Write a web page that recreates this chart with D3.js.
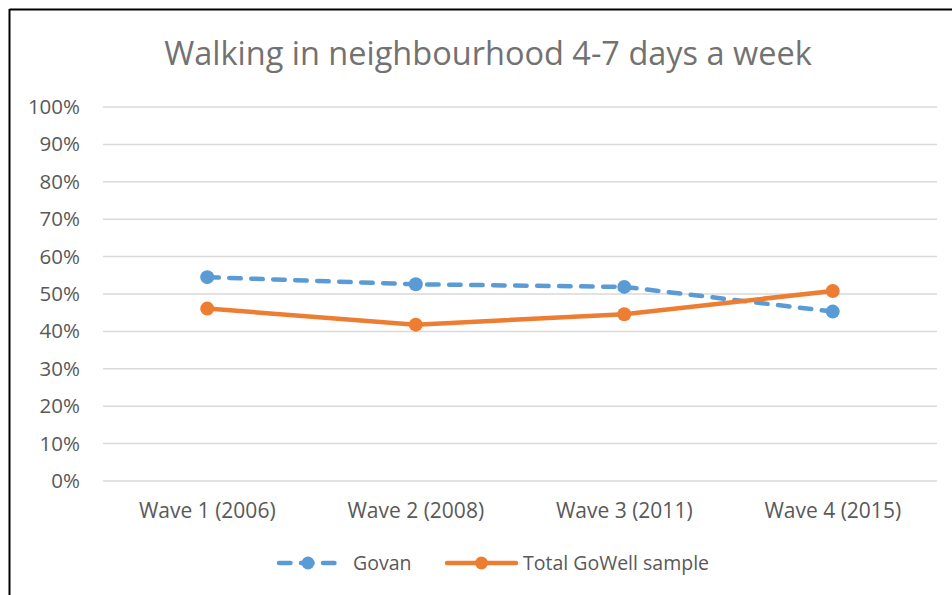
<!DOCTYPE html>
<html>
<head>
<meta charset="utf-8">
<script src="https://cdn.jsdelivr.net/npm/d3@7"></script>
<style>
  body { margin:0; background:#fff; }
  text { font-family: "Open Sans", "Liberation Sans", sans-serif; fill:#595959; }
</style>
</head>
<body>
<script>
var categories = ["Wave 1 (2006)", "Wave 2 (2008)", "Wave 3 (2011)", "Wave 4 (2015)"];
var govan = [54.5, 52.6, 51.9, 45.3];
var total = [46.1, 41.8, 44.6, 50.8];
var yTicks = [0, 10, 20, 30, 40, 50, 60, 70, 80, 90, 100];
var seriesNames = ["Govan", "Total GoWell sample"];

var W = 952, H = 595;
var margin = {top:107, left:103, right:15, bottom:114};
var w = W - margin.left - margin.right,
    h = H - margin.top - margin.bottom;

var svg = d3.select("body").append("svg")
    .attr("width", W)
    .attr("height", H);

// frame (only top and left show in the crop)
svg.append("line").attr("x1",9.5).attr("x2",W).attr("y1",9.5).attr("y2",9.5)
    .style("stroke","#000").style("stroke-width",2);
svg.append("line").attr("x1",9.5).attr("x2",9.5).attr("y1",9).attr("y2",H)
    .style("stroke","#000").style("stroke-width",2);

svg.append("text")
    .attr("x", 488)
    .attr("y", 65)
    .attr("text-anchor","middle")
    .style("font-size","32.5px")
    .style("fill","#727272")
    .text("Walking in neighbourhood 4-7 days a week");

var g = svg.append("g")
    .attr("transform","translate(" + margin.left + "," + margin.top + ")");

var xScale = d3.scaleBand().domain(categories).range([0, w]);
var yScale = d3.scaleLinear().domain([0, 100]).range([h, 0]);

// gridlines
g.selectAll("line.grid")
  .data(yTicks)
  .enter()
  .append("line")
    .attr("class","grid")
    .attr("x1",0).attr("x2",w)
    .attr("y1",function(d){return yScale(d)})
    .attr("y2",function(d){return yScale(d)})
    .style("stroke","#d9d9d9")
    .style("stroke-width",1.5);

// y axis labels
var yAxis = d3.axisLeft(yScale).tickValues(yTicks).tickSize(0).tickPadding(23)
    .tickFormat(function(d){return d + "%"});
g.append("g").call(yAxis)
  .call(function(a){ a.select(".domain").remove(); })
  .selectAll("text")
    .style("font-size","20.5px")
    .style("font-family","'Open Sans', sans-serif")
    .attr("fill","#595959");

var xAxis = d3.axisBottom(xScale).tickSize(0).tickPadding(22);
g.append("g").attr("transform","translate(0," + h + ")").call(xAxis)
  .call(function(a){ a.select(".domain").remove(); })
  .selectAll("text")
    .style("font-size","21px")
    .style("font-family","'Open Sans', sans-serif")
    .attr("fill","#595959");

var cx = function(d,i){ return xScale(categories[i]) + xScale.bandwidth()/2; };

var line = d3.line()
    .x(function(d,i){ return cx(d,i); })
    .y(function(d){ return yScale(d); });

var series = [
  {name: seriesNames[0], values: govan, color: "#5b9bd5", dash: "11.5,10.5"},
  {name: seriesNames[1], values: total, color: "#ed7d31", dash: null}
];

series.forEach(function(s){
  g.append("path")
      .datum(s.values)
      .attr("d", line)
      .style("fill","none")
      .style("stroke", s.color)
      .style("stroke-width", 4.5)
      .style("stroke-linecap","round")
      .style("stroke-dasharray", s.dash);
  g.selectAll(null)
    .data(s.values)
    .enter()
    .append("circle")
      .attr("cx", cx)
      .attr("cy", function(d){ return yScale(d); })
      .attr("r", 7)
      .style("fill", s.color);
});

// legend
var legendPos = [{x:279, len:58, tx:353}, {x:447, len:69, tx:523}];
var legend = svg.append("g").attr("transform","translate(0,563)");
series.forEach(function(s,i){
  var p = legendPos[i];
  legend.append("line")
      .attr("x1", p.x).attr("x2", p.x + p.len)
      .attr("y1", 0).attr("y2", 0)
      .style("stroke", s.color)
      .style("stroke-width", 4.5)
      .style("stroke-linecap","round")
      .style("stroke-dasharray", s.dash);
  legend.append("circle")
      .attr("cx", p.x + p.len/2).attr("cy", 0).attr("r", 6.5)
      .style("fill", s.color);
  legend.append("text")
      .attr("x", p.tx).attr("y", 7)
      .style("font-size","19.5px")
      .text(s.name);
});
</script>
</body>
</html>
